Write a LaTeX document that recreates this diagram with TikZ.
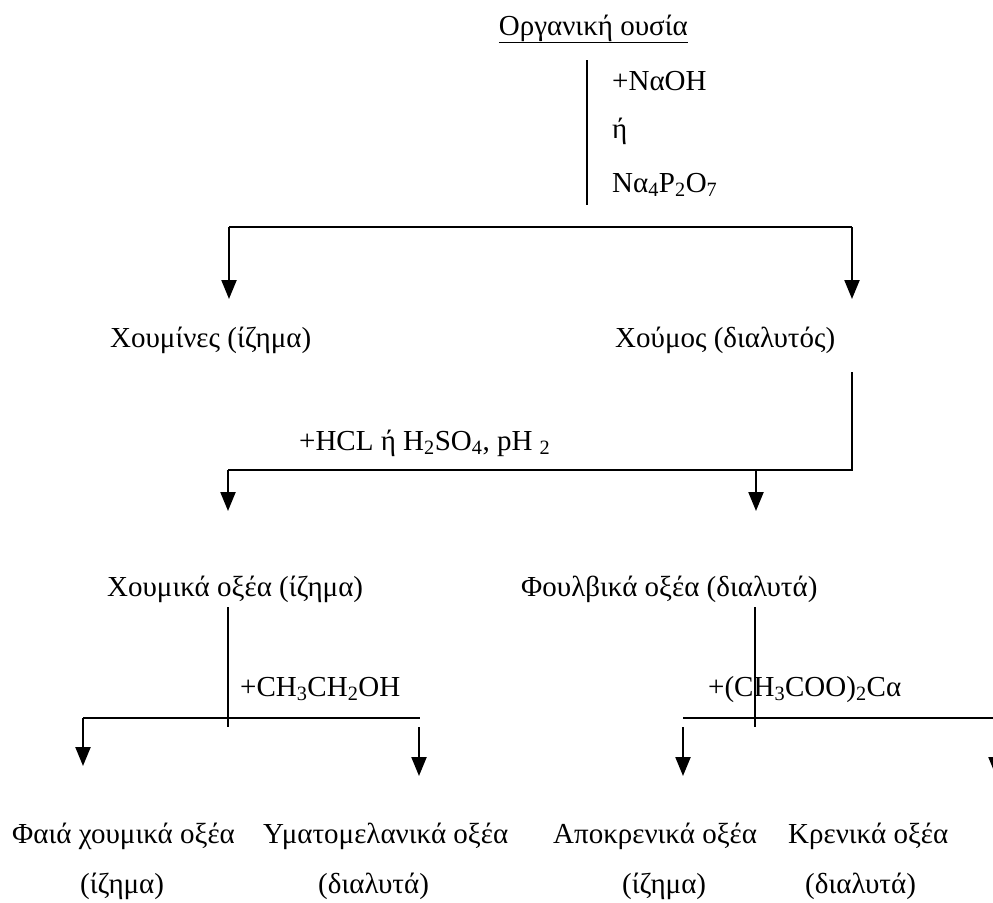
\documentclass[tikz,border=0pt]{standalone}
\usepackage{fontspec}
\setmainfont{Liberation Serif}
\usetikzlibrary{arrows.meta}
\tikzset{
  lbl/.style={anchor=base west, inner sep=0pt, font=\fontsize{29}{34}\selectfont},
  ln/.style={line width=2.2pt},
  arr/.style={line width=2.2pt, -{Triangle[width=15pt,length=19pt]}},
}
\begin{document}
\begin{tikzpicture}[x=1pt,y=-1pt]
\useasboundingbox (0,0) rectangle (993,902);
% texts
\node[lbl, anchor=base east] (org) at (688,35) {\underline{Οργανική ουσία}};
\node[lbl] (naoh) at (612,90) {+NαOH};
\node[lbl] (or1) at (612,138) {ή};
\node[lbl] (napo) at (612,192) {Nα\textsubscript{4}P\textsubscript{2}O\textsubscript{7}};
\node[lbl] (xmin) at (110,347) {Χουμίνες (ίζημα)};
\node[lbl] (xmos) at (615,347) {Χούμος (διαλυτός)};
\node[lbl] (hcl) at (299,450) {+HCL ή H\textsubscript{2}SO\textsubscript{4}, pH \textsubscript{2}};
\node[lbl] (xox) at (107,596) {Χουμικά οξέα (ίζημα)};
\node[lbl] (fox) at (521,596) {Φουλβικά οξέα (διαλυτά)};
\node[lbl] (eth) at (240,696) {+CH\textsubscript{3}CH\textsubscript{2}OH};
\node[lbl] (ac) at (708,696) {+(CH\textsubscript{3}COO)\textsubscript{2}Cα};
\node[lbl] (f1) at (12,843) {Φαιά χουμικά οξέα};
\node[lbl] (f2) at (80,893) {(ίζημα)};
\node[lbl] (y1) at (263,843) {Υματομελανικά οξέα};
\node[lbl] (y2) at (318,893) {(διαλυτά)};
\node[lbl] (a1) at (553,843) {Αποκρενικά οξέα};
\node[lbl] (a2) at (622,893) {(ίζημα)};
\node[lbl] (k1) at (788,843) {Κρενικά οξέα};
\node[lbl] (k2) at (805,893) {(διαλυτά)};
% coordinates
\coordinate (t0) at (587,60);
\coordinate (t1) at (587,205);
\coordinate (hL) at (229,227);
\coordinate (hR) at (852,227);
\coordinate (aL) at (229,299);
\coordinate (aR) at (852,299);
\coordinate (m0) at (852,372);
\coordinate (m1) at (852,470);
\coordinate (mL) at (228,470);
\coordinate (mM) at (756,470);
\coordinate (bL) at (228,511);
\coordinate (bM) at (756,511);
\coordinate (c0) at (228,607);
\coordinate (c1) at (228,727);
\coordinate (cL) at (83,718);
\coordinate (cR) at (420,718);
\coordinate (cLa) at (83,766);
\coordinate (cRs) at (419,727);
\coordinate (cRa) at (419,776);
\coordinate (d0) at (755,607);
\coordinate (d1) at (755,727);
\coordinate (dL) at (683,718);
\coordinate (dR) at (993,718);
\coordinate (dLs) at (683,727);
\coordinate (dLa) at (683,776);
\coordinate (dRs) at (996,727);
\coordinate (dRa) at (996,776);
% lines
\draw[ln] (t0) -- (t1);
\draw[ln] (hL) -- (hR);
\draw[arr] (hL) -- (aL);
\draw[arr] (hR) -- (aR);
\draw[ln] (m0) -- (m1) -- (mL);
\draw[arr] (mL) -- (bL);
\draw[arr] (mM) -- (bM);
\draw[ln] (c0) -- (c1);
\draw[ln] (cL) -- (cR);
\draw[arr] (cL) -- (cLa);
\draw[arr] (cRs) -- (cRa);
\draw[ln] (d0) -- (d1);
\draw[ln] (dL) -- (dR);
\draw[arr] (dLs) -- (dLa);
\draw[arr] (dRs) -- (dRa);
\end{tikzpicture}
\end{document}
